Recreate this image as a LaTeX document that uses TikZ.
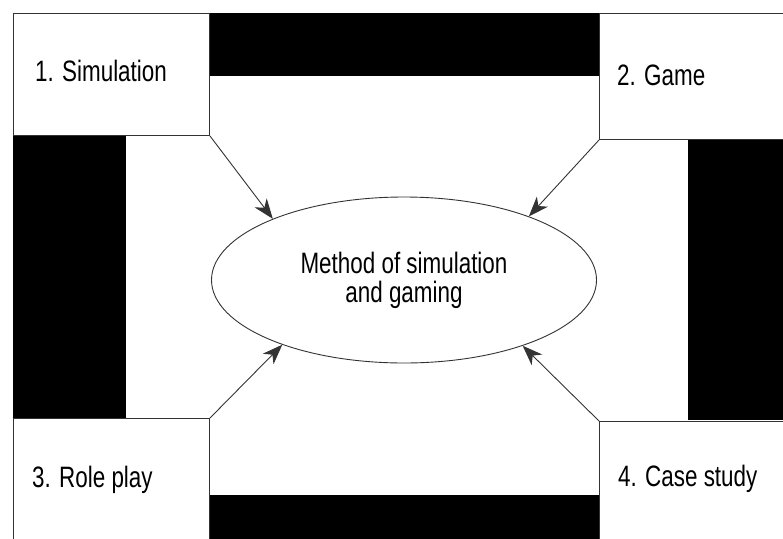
\documentclass[tikz,border=0pt]{standalone}
\usepackage{fontspec}
\setmainfont{Liberation Sans}[FakeStretch=0.76]
\usetikzlibrary{shapes.geometric,arrows.meta}
\begin{document}
\begin{tikzpicture}[x=1pt,y=-1pt,
  box/.style={draw=black!80, line width=1pt, fill=white, rectangle, inner sep=0pt, anchor=north west},
  bar/.style={fill=black},
  lbl/.style={anchor=base west, inner sep=0pt, font=\fontsize{29.5}{29}\selectfont},
  conn/.style={draw=black!80, line width=0.9pt, -{Stealth[length=20pt,width=15pt,inset=6pt]}}]
\clip (0,0) rectangle (783,538);
\fill[white] (0,0) rectangle (783,538);
% black bars
\fill[bar] (209,13) rectangle (599,76);
\fill[bar] (688,139) rectangle (790,420);
\fill[bar] (13,135) rectangle (126,418);
\fill[bar] (209,495) rectangle (599,545);
% boxes
\node[box, minimum width=196pt, minimum height=122pt] (b1) at (13,13) {};
\node[box, minimum width=200pt, minimum height=126pt] (b2) at (599,13) {};
\node[box, minimum width=196pt, minimum height=125pt] (b3) at (13,418) {};
\node[box, minimum width=200pt, minimum height=125pt] (b4) at (599,421) {};
% labels
\node[lbl] (t1) at (35,81) {1. Simulation};
\node[lbl] (t2) at (617,85) {2. Game};
\node[lbl] (t3) at (32,487) {3. Role play};
\node[lbl] (t4) at (618,486) {4. Case study};
% ellipse
\node[ellipse, draw=black!80, line width=0.9pt, minimum width=385pt, minimum height=166pt, inner sep=0pt,
      align=center, font=\fontsize{29.5}{29}\selectfont] (e) at (404,280) {Method of simulation\\and gaming};
% connectors
\draw[conn] (b1.south east) -- (e.155);
\draw[conn] (b2.south west) -- (e.27);
\draw[conn] (b3.north east) -- (e.208);
\draw[conn] (b4.north west) -- (e.331);
\end{tikzpicture}
\end{document}
